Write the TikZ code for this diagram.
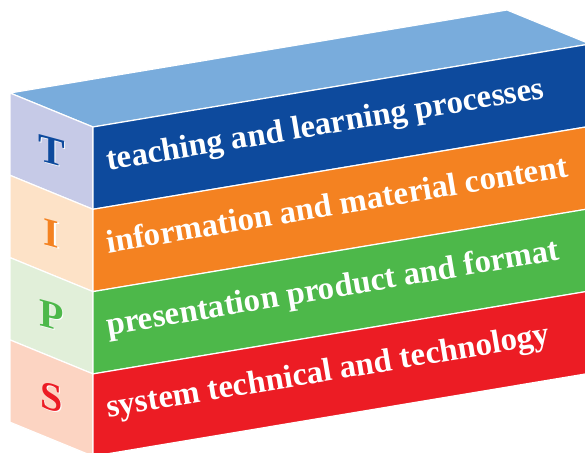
\documentclass[tikz,border=0pt]{standalone}
\usepackage{fontspec}
\setmainfont{Liberation Serif}
\definecolor{tipsblue}{HTML}{0D4A9D}
\definecolor{tipsorange}{HTML}{F48221}
\definecolor{tipsgreen}{HTML}{4DB84A}
\definecolor{tipsred}{HTML}{EC1C24}
\definecolor{tipstop}{HTML}{79ACDC}
\definecolor{tipslav}{HTML}{C6CAE7}
\definecolor{tipspeach}{HTML}{FDE2C7}
\definecolor{tipsmint}{HTML}{E1EFD9}
\definecolor{tipssalmon}{HTML}{FCD4C2}
\tikzset{
  face/.style={draw=white,line width=1.2pt,line join=miter},
  bandtext/.style={anchor=mid west,inner sep=0pt,text=white,rotate=9.46,
    font=\bfseries\fontsize{32.8}{32.8}\selectfont},
  sideletter/.style={inner sep=0pt,yslant=-0.27,
    font=\bfseries\fontsize{40}{40}\selectfont}
}

\begin{document}
\begin{tikzpicture}[x=1pt,y=-1pt]
\clip (0,0) rectangle (585,452);
% top of the block
\filldraw[face,fill=tipstop] (10,93) -- (507,10) -- (590,44) -- (93,127) -- cycle;
% one layer per letter
\foreach \front/\side/\letter/\txt [count=\i from 0] in {
    tipsblue/tipslav/T/teaching and learning processes,
    tipsorange/tipspeach/I/information and material content,
    tipsgreen/tipsmint/P/presentation product and format,
    tipsred/tipssalmon/S/system technical and technology}{
  \pgfmathsetmacro\dy{82.3*\i}
  \filldraw[face,fill=\side] (10,93+\dy) -- (93,127+\dy) -- (93,209.3+\dy) -- (10,175.3+\dy) -- cycle;
  \filldraw[face,fill=\front] (93,127+\dy) -- (590,44+\dy) -- (590,126.3+\dy) -- (93,209.3+\dy) -- cycle;
  \node[sideletter,text=white] (shade\i) at (52.8,151.8+\dy) {\letter};
  \node[sideletter,text=\front] (letter\i) at (51.5,151+\dy) {\letter};
  \node[bandtext] (label\i) at (107.5,168.5+\dy) {\txt};
}
\end{tikzpicture}
\end{document}
